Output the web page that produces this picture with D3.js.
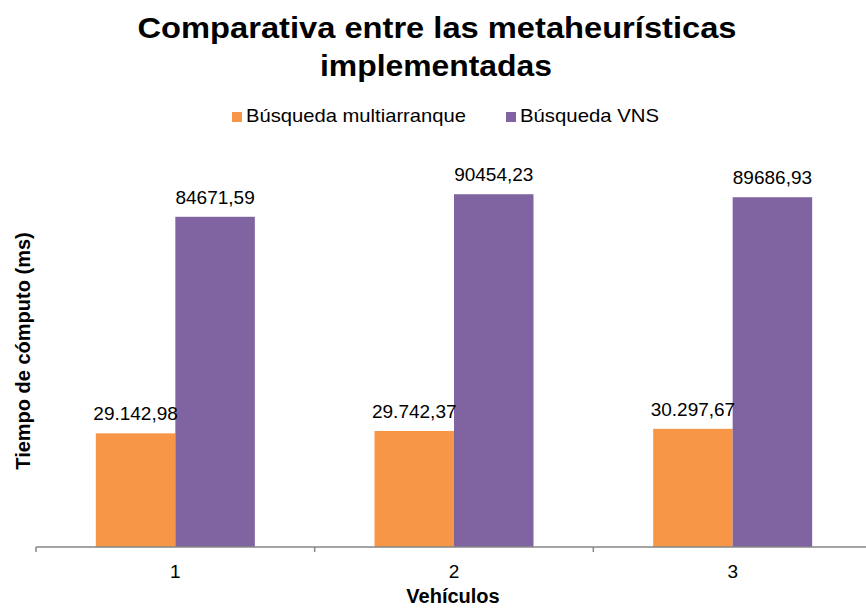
<!DOCTYPE html>
<html>
<head>
<meta charset="utf-8">
<script src="https://cdn.jsdelivr.net/npm/d3@7"></script>
<style>
    body { margin: 0; background: #fff; }
    svg text { font-family: Arial, "Liberation Sans", sans-serif; fill: #000; }
</style>
</head>
<body>
<svg id="chart" width="866" height="613"></svg>
<script>
"use strict";

// Chart data
var categories = ["1", "2", "3"],
    seriesNames = ["Búsqueda multiarranque", "Búsqueda VNS"],
    multiarranque = [29142.98, 29742.37, 30297.67],
    vns = [84671.59, 90454.23, 89686.93],
    labelsMulti = ["29.142,98", "29.742,37", "30.297,67"],
    labelsVns = ["84671,59", "90454,23", "89686,93"],
    colors = ["#F79646", "#8064A2"];

var svg = d3.select("#chart"),
    baseY = 547;

var x = d3.scaleBand()
    .domain(categories)
    .range([36, 872])
    .paddingInner(0)
    .paddingOuter(0);

var sub = d3.scaleBand()
    .domain([0, 1])
    .range([0, 159]);

var y = d3.scaleLinear()
    .domain([0, 100000])
    .range([baseY, 157]);

// Title (the original is drawn a bit wide, so stretch to its width)
svg.append("text")
    .attr("x", 437).attr("y", 38)
    .attr("text-anchor", "middle")
    .attr("textLength", 599).attr("lengthAdjust", "spacingAndGlyphs")
    .style("font-size", "30px").style("font-weight", "bold")
    .text("Comparativa entre las metaheurísticas");
svg.append("text")
    .attr("x", 436).attr("y", 76)
    .attr("text-anchor", "middle")
    .attr("textLength", 232).attr("lengthAdjust", "spacingAndGlyphs")
    .style("font-size", "30px").style("font-weight", "bold")
    .text("implementadas");

// Legend
var legendX = [232, 506],
    legendW = [220, 139];
var legend = svg.selectAll("g.legend")
    .data(seriesNames)
    .enter().append("g")
    .attr("class", "legend")
    .attr("transform", function (d, i) { return "translate(" + legendX[i] + ",112)"; });
legend.append("rect")
    .attr("width", 10).attr("height", 10)
    .attr("fill", function (d, i) { return colors[i]; });
legend.append("text")
    .attr("x", 14).attr("y", 10)
    .attr("textLength", function (d, i) { return legendW[i]; })
    .attr("lengthAdjust", "spacingAndGlyphs")
    .style("font-size", "19px")
    .text(function (d) { return d; });

// Bars
var rows = categories.map(function (c, i) {
    return [
        { cat: c, s: 0, v: multiarranque[i], label: labelsMulti[i] },
        { cat: c, s: 1, v: vns[i], label: labelsVns[i] }
    ];
});

var groups = svg.selectAll("g.group")
    .data(rows)
    .enter().append("g")
    .attr("class", "group")
    .attr("transform", function (d) {
        return "translate(" + (x(d[0].cat) + x.bandwidth() / 2 - 79.5) + ",0)";
    });

groups.selectAll("rect")
    .data(function (d) { return d; })
    .enter().append("rect")
    .attr("x", function (d) { return sub(d.s); })
    .attr("width", sub.bandwidth())
    .attr("y", function (d) { return y(d.v); })
    .attr("height", function (d) { return baseY - y(d.v); })
    .attr("fill", function (d) { return colors[d.s]; });

groups.selectAll("text")
    .data(function (d) { return d; })
    .enter().append("text")
    .attr("x", function (d) { return sub(d.s) + sub.bandwidth() / 2; })
    .attr("y", function (d) { return y(d.v) - 13; })
    .attr("text-anchor", "middle")
    .style("font-size", "19px")
    .text(function (d) { return d.label; });

// X axis
var xAxis = svg.append("g")
    .attr("transform", "translate(0," + baseY + ")");
xAxis.append("line")
    .attr("x1", 36).attr("x2", 866)
    .attr("stroke", "#868686").attr("stroke-width", 1.5);
xAxis.selectAll("line.tick")
    .data(categories.concat(["end"]))
    .enter().append("line")
    .attr("class", "tick")
    .attr("x1", function (d, i) { return 36 + i * x.bandwidth(); })
    .attr("x2", function (d, i) { return 36 + i * x.bandwidth(); })
    .attr("y1", 0).attr("y2", 5)
    .attr("stroke", "#868686").attr("stroke-width", 1.5);
xAxis.selectAll("text")
    .data(categories)
    .enter().append("text")
    .attr("x", function (d) { return x(d) + x.bandwidth() / 2; })
    .attr("y", 31)
    .attr("text-anchor", "middle")
    .style("font-size", "19px")
    .text(function (d) { return d; });

// Axis titles
svg.append("text")
    .attr("x", 453).attr("y", 603)
    .attr("text-anchor", "middle")
    .style("font-size", "20px").style("font-weight", "bold")
    .text("Vehículos");
svg.append("text")
    .attr("transform", "translate(30,351) rotate(-90)")
    .attr("text-anchor", "middle")
    .style("font-size", "20px").style("font-weight", "bold")
    .text("Tiempo de cómputo (ms)");
</script>
</body>
</html>
